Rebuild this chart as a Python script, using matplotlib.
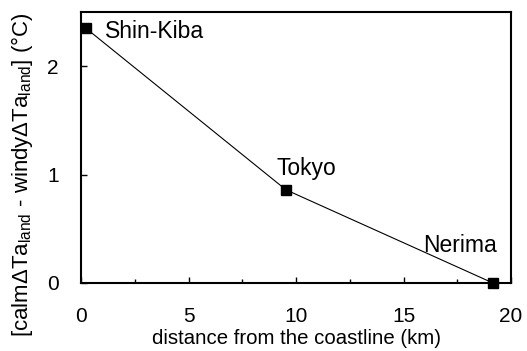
import matplotlib
matplotlib.use("Agg")
import matplotlib.pyplot as plt
from matplotlib.ticker import MultipleLocator

plt.rcParams['font.family'] = ['Liberation Sans', 'DejaVu Sans']
plt.rcParams['mathtext.fontset'] = 'custom'
plt.rcParams['mathtext.rm'] = 'Liberation Sans'
plt.rcParams['mathtext.default'] = 'regular'

# sites along the transect
sites = ['Shin-Kiba', 'Tokyo', 'Nerima']
distance = [0.23, 9.53, 19.16]
dT = [2.35, 0.86, 0.0]

fig = plt.figure(figsize=(5.27, 3.51), dpi=100)
ax = fig.add_axes([81/527, 1 - 283/351, 430/527, 271/351])

ax.plot(distance, dT, color='black', lw=0.8, marker='s', ms=7.5,
        markerfacecolor='black', clip_on=False, zorder=3)

# site labels (baseline offsets in points)
offsets = [(13.7, -7.2), (-6.5, 10.8), (-50.4, 22.3)]
for s, x, y, off in zip(sites, distance, dT, offsets):
    ax.annotate(s, (x, y), xytext=off, textcoords='offset points',
                fontsize=16.5, ha='left', va='baseline')

ax.set_xlim(0, 20)
ax.set_ylim(0, 2.5)
ax.xaxis.set_major_locator(MultipleLocator(5))
ax.xaxis.set_minor_locator(MultipleLocator(2.5))
ax.set_yticks([0, 1, 2])
ax.tick_params(direction='in', labelsize=15, length=4.5, width=1)
ax.tick_params(which='minor', direction='in', length=3, width=1)
ax.tick_params(axis='x', pad=17)
ax.tick_params(axis='y', pad=16)
for sp in ax.spines.values():
    sp.set_linewidth(1.5)

ax.set_xlabel('distance from the coastline (km)', fontsize=14.7)
ax.set_ylabel(r'[calm$\Delta$Ta$_{land}$ - windy$\Delta$Ta$_{land}$] (°C)',
              fontsize=16)
ax.xaxis.set_label_coords(0.5, -(339 - 283) / 271, transform=ax.transAxes)
ax.xaxis.label.set_va('center')
ax.yaxis.set_label_coords(-(81 - 22) / 430, (283 - 175) / 271,
                          transform=ax.transAxes)
ax.yaxis.label.set_va('center')

fig.savefig('out.png', dpi=100)
